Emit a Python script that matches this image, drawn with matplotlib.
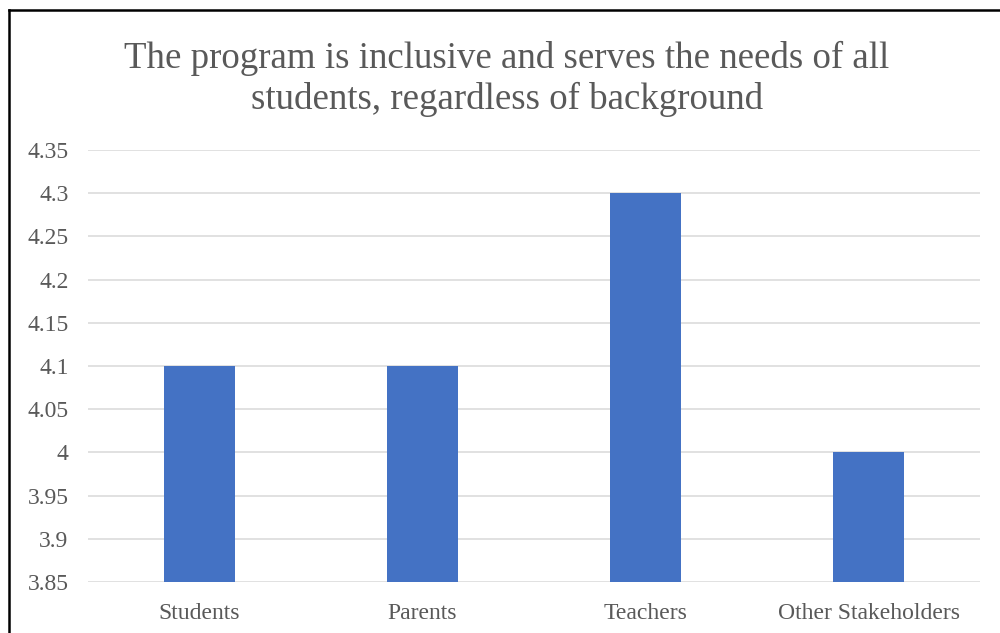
import matplotlib
matplotlib.use("Agg")
import matplotlib.pyplot as plt
from matplotlib.lines import Line2D

# Survey data
categories = ["Students", "Parents", "Teachers", "Other Stakeholders"]
scores = [4.1, 4.1, 4.3, 4.0]
y_ticks = [3.85, 3.9, 3.95, 4.0, 4.05, 4.1, 4.15, 4.2, 4.25, 4.3, 4.35]
y_tick_labels = ["3.85", "3.9", "3.95", "4", "4.05", "4.1", "4.15", "4.2", "4.25", "4.3", "4.35"]
title = "The program is inclusive and serves the needs of all\nstudents, regardless of background"

text_color = "#595959"
grid_color = "#D9D9D9"
bar_color = "#4472C4"

plt.rcParams["font.family"] = ["Liberation Serif", "DejaVu Serif"]

fig = plt.figure(figsize=(10, 6.33), dpi=100)
ax = fig.add_axes([0.088, 0.0806, 0.892, 0.6824])

x = range(len(categories))
ax.bar(x, scores, width=0.314, color=bar_color, zorder=3)

ax.set_xlim(-0.5, len(categories) - 0.5)
ax.set_ylim(y_ticks[0], y_ticks[-1])
ax.set_yticks(y_ticks)
ax.set_yticklabels(y_tick_labels)
ax.set_xticks(list(x))
ax.set_xticklabels(categories)

ax.tick_params(axis="both", length=0, labelsize=17, labelcolor=text_color)
ax.tick_params(axis="y", pad=14)
ax.tick_params(axis="x", pad=15)

ax.grid(axis="y", color=grid_color, linewidth=1.1, zorder=0)
ax.set_axisbelow(True)
for s in ax.spines.values():
    s.set_visible(False)

fig.text(0.507, 0.876, title, ha="center", va="center",
         fontsize=26.6, color=text_color, linespacing=1.22)

# Chart frame (left and top edges)
fig.add_artist(Line2D([0.0085, 0.0085], [0.0, 0.984], color="black",
                      linewidth=1.8, transform=fig.transFigure))
fig.add_artist(Line2D([0.0085, 1.0], [0.984, 0.984], color="black",
                      linewidth=1.8, transform=fig.transFigure))

fig.savefig("out.png", dpi=100, facecolor="white")
